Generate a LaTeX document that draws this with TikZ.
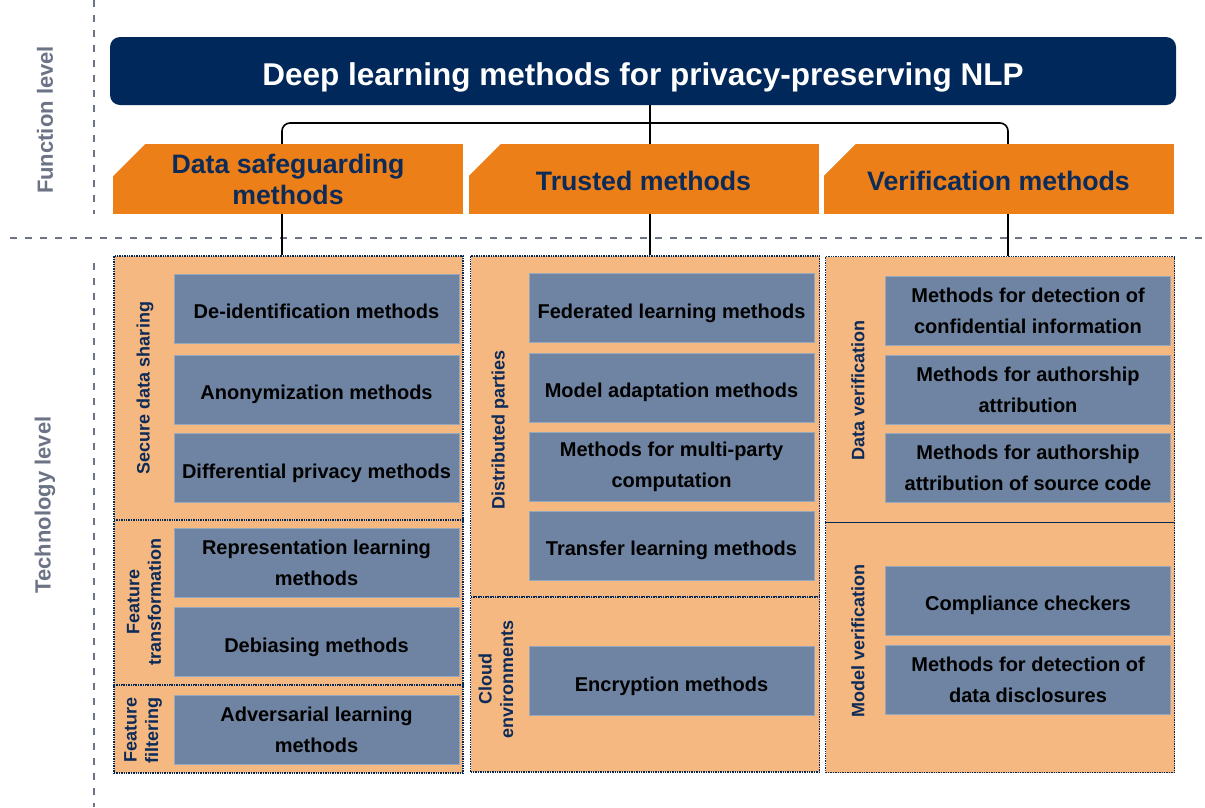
\documentclass[tikz,border=0pt]{standalone}
\usepackage{fontspec}
\setmainfont{Liberation Sans}

\definecolor{navy}{HTML}{00285A}
\definecolor{hdrorange}{HTML}{EC7F17}
\definecolor{hdrtext}{HTML}{0D2B59}
\definecolor{panelfill}{HTML}{F5B880}
\definecolor{boxblue}{HTML}{6E84A2}
\definecolor{boxedge}{HTML}{97A7BC}
\definecolor{levelgray}{HTML}{6B7384}

\begin{document}
\begin{tikzpicture}
        [x=1pt, y=-1pt,
        title/.style={rectangle, rounded corners=10pt, fill=navy, text=white, inner sep=0pt,
          minimum width=1066pt, minimum height=68pt, text height=28pt, text depth=0pt,
          font=\bfseries\fontsize{31.5}{36}\selectfont},
        header/.style={rectangle, fill=hdrorange, text=hdrtext, align=center, inner sep=0pt,
          minimum width=350pt, minimum height=70pt, font=\bfseries\fontsize{26.7}{31}\selectfont,
          path picture={\fill[white] (path picture bounding box.north west) -- ++(32pt,0pt)
            -- ++(-32pt,-32pt) -- cycle;}},
        panel/.style={rectangle, draw=navy, densely dotted, line width=1.4pt, fill=panelfill,
          inner sep=0pt, minimum width=349pt},
        method/.style={rectangle, fill=boxblue, draw=boxedge, line width=0.8pt, inner sep=0pt,
          minimum width=285pt, minimum height=69pt, align=center,
          font=\bfseries\fontsize{20}{31}\selectfont},
        oneline/.style={text height=#1, text depth=0pt},
        group/.style={rotate=90, text=hdrtext, align=center,
          font=\bfseries\fontsize{18}{21.5}\selectfont},
        level/.style={rotate=90, text=levelgray, font=\bfseries\fontsize{22}{26}\selectfont},
        levelline/.style={levelgray, line width=1.8pt, dash pattern=on 7pt off 8pt},
        link/.style={black, line width=1.6pt}]

        \useasboundingbox (0,0) rectangle (1205,807);

        % level separators
        \draw[levelline] (94,0) -- (94,214);
        \draw[levelline] (94,263) -- (94,807);
        \draw[levelline] (10,238) -- (1205,238);
        \node[level] (funclevel) at (45,120) {Function level};
        \node[level] (techlevel) at (45,505) {Technology level};

        % function level
        \node[title] (title) at (643,71) {Deep learning methods for privacy-preserving NLP};
        \node[header] (safe) at (288,179) {Data safeguarding\\methods};
        \node[header, oneline=22pt] (trusted) at (643.5,179) {Trusted methods};
        \node[header, oneline=22pt] (verif) at (998.5,179) {Verification methods};

        % technology level panels
        \node[panel, minimum height=264pt] (share) at (288.5,388) {};
        \node[panel, minimum height=165pt] (transf) at (288.5,602.5) {};
        \node[panel, minimum height=88pt] (filter) at (288.5,729) {};
        \node[panel, minimum height=341pt] (distrib) at (645,426.5) {};
        \node[panel, minimum height=175pt] (cloud) at (645,684.5) {};
        \node[panel, minimum height=266pt] (dataver) at (1000,389.5) {};
        \node[panel, minimum height=250pt] (modelver) at (1000,647.5) {};

        % panel labels
        \node[group] (sharelbl) at (145,388) {Secure data sharing};
        \node[group] (transflbl) at (144,602) {Feature\\transformation};
        \node[group] (filterlbl) at (143,730) {Feature\\filtering};
        \node[group] (distriblbl) at (500,430) {Distributed parties};
        \node[group] (cloudlbl) at (496,679) {Cloud\\environments};
        \node[group] (dataverlbl) at (858,390) {Data verification};
        \node[group] (modelverlbl) at (858,641) {Model verification};

        % data safeguarding methods
        \node[method, oneline=20pt] (deid) at (316.5,308.5) {De-identification methods};
        \node[method, oneline=20pt] (anon) at (316.5,389.5) {Anonymization methods};
        \node[method, oneline=20pt] (diffp) at (316.5,468) {Differential privacy methods};
        \node[method] (repr) at (316.5,563) {Representation learning\\methods};
        \node[method, oneline=20pt] (debias) at (316.5,642) {Debiasing methods};
        \node[method] (adv) at (316.5,730) {Adversarial learning\\methods};

        % trusted methods
        \node[method, oneline=20pt] (fed) at (671.5,308) {Federated learning methods};
        \node[method, oneline=20pt] (adapt) at (671.5,387.5) {Model adaptation methods};
        \node[method] (mpc) at (671.5,466.5) {Methods for multi-party\\computation};
        \node[method, oneline=20pt] (transfer) at (671.5,545.5) {Transfer learning methods};
        \node[method, oneline=20pt] (encr) at (671.5,681) {Encryption methods};

        % verification methods
        \node[method] (confid) at (1028,310.5) {Methods for detection of\\confidential information};
        \node[method] (author) at (1028,389.5) {Methods for authorship\\attribution};
        \node[method] (source) at (1028,468) {Methods for authorship\\attribution of source code};
        \node[method, oneline=20pt] (comply) at (1028,600.5) {Compliance checkers};
        \node[method] (disclose) at (1028,679.5) {Methods for detection of\\data disclosures};

        % tree connectors
        \coordinate (split) at (650,123);
        \coordinate (safebus) at (282,123);
        \coordinate (verifbus) at (1008,123);
        \draw[link] (split |- title.south) -- (split |- trusted.north);
        \draw[link, rounded corners=8pt] (safebus |- safe.north) |- (split) -| (verifbus |- verif.north);
        \draw[link] (safebus |- safe.south) -- (safebus |- share.north);
        \draw[link] (split |- trusted.south) -- (split |- distrib.north);
        \draw[link] (verifbus |- verif.south) -- (verifbus |- dataver.north);

    \end{tikzpicture}
\end{document}
